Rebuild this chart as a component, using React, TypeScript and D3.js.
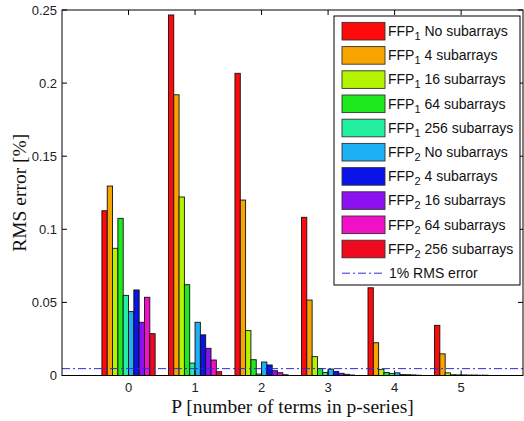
import React from "react";
import * as d3 from "d3";

const categories = [0, 1, 2, 3, 4, 5];
const seriesNames = [
  { ffp: "1", label: "No subarrays" },
  { ffp: "1", label: "4 subarrays" },
  { ffp: "1", label: "16 subarrays" },
  { ffp: "1", label: "64 subarrays" },
  { ffp: "1", label: "256 subarrays" },
  { ffp: "2", label: "No subarrays" },
  { ffp: "2", label: "4 subarrays" },
  { ffp: "2", label: "16 subarrays" },
  { ffp: "2", label: "64 subarrays" },
  { ffp: "2", label: "256 subarrays" },
];
const seriesColors = [
  "#ff0a0a", "#f7a400", "#b4f400", "#1ee81e", "#22f0a0",
  "#1eb0f5", "#0a14e6", "#8c10f0", "#f010c8", "#f00a1e",
];
// values per series, one per category P = 0..5
const ffp1_none = [0.1127, 0.2466, 0.2067, 0.1082, 0.0600, 0.0343];
const ffp1_4 = [0.1296, 0.1920, 0.1200, 0.0516, 0.0224, 0.0148];
const ffp1_16 = [0.0870, 0.1221, 0.0307, 0.0129, 0.0042, 0.0018];
const ffp1_64 = [0.1075, 0.0621, 0.0108, 0.0047, 0.0021, 0.0005];
const ffp1_256 = [0.0548, 0.0085, 0.0010, 0.0020, 0.0013, 0.0004];
const ffp2_none = [0.0437, 0.0364, 0.0092, 0.0044, 0.0018, 0.0004];
const ffp2_4 = [0.0585, 0.0278, 0.0072, 0.0028, 0.0006, 0.0003];
const ffp2_16 = [0.0364, 0.0186, 0.0033, 0.0015, 0.0005, 0.0003];
const ffp2_64 = [0.0535, 0.0106, 0.0019, 0.0008, 0.0004, 0.0002];
const ffp2_256 = [0.0286, 0.0026, 0.0005, 0.0003, 0.0002, 0.0002];
const seriesValues = [
  ffp1_none, ffp1_4, ffp1_16, ffp1_64, ffp1_256,
  ffp2_none, ffp2_4, ffp2_16, ffp2_64, ffp2_256,
];
const thresholdValue = 0.0047;
const thresholdLabel = "1% RMS error";
const yTicks = [0, 0.05, 0.1, 0.15, 0.2, 0.25];
const yTickLabels = ["0", "0.05", "0.1", "0.15", "0.2", "0.25"];
const xLabel = "P [number of terms in p-series]";
const yLabel = "RMS error [%]";

const W = 524;
const H = 421;
const left = 62;
const right = 523;
const top = 10;
const bottom = 375.5;

export default function App() {
  const x = d3.scaleLinear().domain([-1, 5.93]).range([left, right]);
  const y = d3.scaleLinear().domain([0, 0.25]).range([bottom, top]);
  const groupW = x(0.8) - x(0);
  const inner = d3
    .scaleBand<number>()
    .domain(d3.range(seriesValues.length))
    .range([-groupW / 2, groupW / 2])
    .padding(0);
  const tickLen = 5;
  const sans = "'Liberation Sans', Arial, Helvetica, sans-serif";
  const serif = "'Liberation Serif', 'Times New Roman', serif";
  const lgX = 334, lgY = 16, lgW = 186, lgH = 269;
  const entryY = (i: number) => 31.2 + i * 24.2;
  const dash = "8,3,2,3";

  return (
    <svg width={W} height={H} style={{ position: "absolute", left: 0, top: 0, background: "#fff" }}>
      <rect x={0} y={0} width={W} height={H} fill="#fff" />
      {/* bars */}
      {seriesValues.map((vals, si) =>
        vals.map((v, ci) => (
          <rect
            key={`b${si}-${ci}`}
            x={x(categories[ci]) + (inner(si) as number)}
            y={y(v)}
            width={inner.bandwidth()}
            height={Math.max(0, y(0) - y(v))}
            fill={seriesColors[si]}
            stroke="#111"
            strokeWidth={0.9}
          />
        ))
      )}
      {/* threshold line */}
      <line
        x1={left}
        x2={right}
        y1={y(thresholdValue)}
        y2={y(thresholdValue)}
        stroke="#2a2af0"
        strokeWidth={1}
        strokeDasharray={dash}
      />
      {/* frame */}
      <rect x={left} y={top} width={right - left} height={bottom - top} fill="none" stroke="#000" strokeWidth={1} />
      {/* x ticks */}
      {categories.map((c) => (
        <g key={`xt${c}`}>
          <line x1={x(c)} x2={x(c)} y1={bottom} y2={bottom - tickLen} stroke="#000" />
          <line x1={x(c)} x2={x(c)} y1={top} y2={top + tickLen} stroke="#000" />
          <text x={x(c)} y={392} textAnchor="middle" fontFamily={sans} fontSize={13} fill="#222">
            {c}
          </text>
        </g>
      ))}
      {/* y ticks */}
      {yTicks.map((t, i) => (
        <g key={`yt${i}`}>
          <line x1={left} x2={left + tickLen} y1={y(t)} y2={y(t)} stroke="#000" />
          <line x1={right} x2={right - tickLen} y1={y(t)} y2={y(t)} stroke="#000" />
          <text x={57} y={y(t) + 4.5} textAnchor="end" fontFamily={sans} fontSize={13} fill="#222">
            {yTickLabels[i]}
          </text>
        </g>
      ))}
      {/* axis labels */}
      <text x={(left + right) / 2} y={413} textAnchor="middle" fontFamily={serif} fontSize={19.5} fill="#111">
        {xLabel}
      </text>
      <text
        transform={`translate(26,${(top + bottom) / 2}) rotate(-90)`}
        textAnchor="middle"
        fontFamily={serif}
        fontSize={19.5}
        fill="#111"
      >
        {yLabel}
      </text>
      {/* legend */}
      <rect x={lgX} y={lgY} width={lgW} height={lgH} fill="#fff" stroke="#000" strokeWidth={1} />
      {seriesNames.map((s, i) => (
        <g key={`lg${i}`}>
          <rect x={342} y={entryY(i) - 8.8} width={43} height={17.6} fill={seriesColors[i]} stroke="#333" strokeWidth={0.9} />
          <text x={388} y={entryY(i) + 4.8} fontFamily={sans} fontSize={14} fill="#111">
            <tspan>FFP</tspan>
            <tspan dy={4} fontSize={11}>{s.ffp}</tspan>
            <tspan dy={-4}>{" " + s.label}</tspan>
          </text>
        </g>
      ))}
      <line
        x1={342}
        x2={385}
        y1={entryY(10)}
        y2={entryY(10)}
        stroke="#2a2af0"
        strokeWidth={1}
        strokeDasharray={dash}
      />
      <text x={389} y={entryY(10) + 4.8} fontFamily={sans} fontSize={14} fill="#111">
        {thresholdLabel}
      </text>
    </svg>
  );
}
